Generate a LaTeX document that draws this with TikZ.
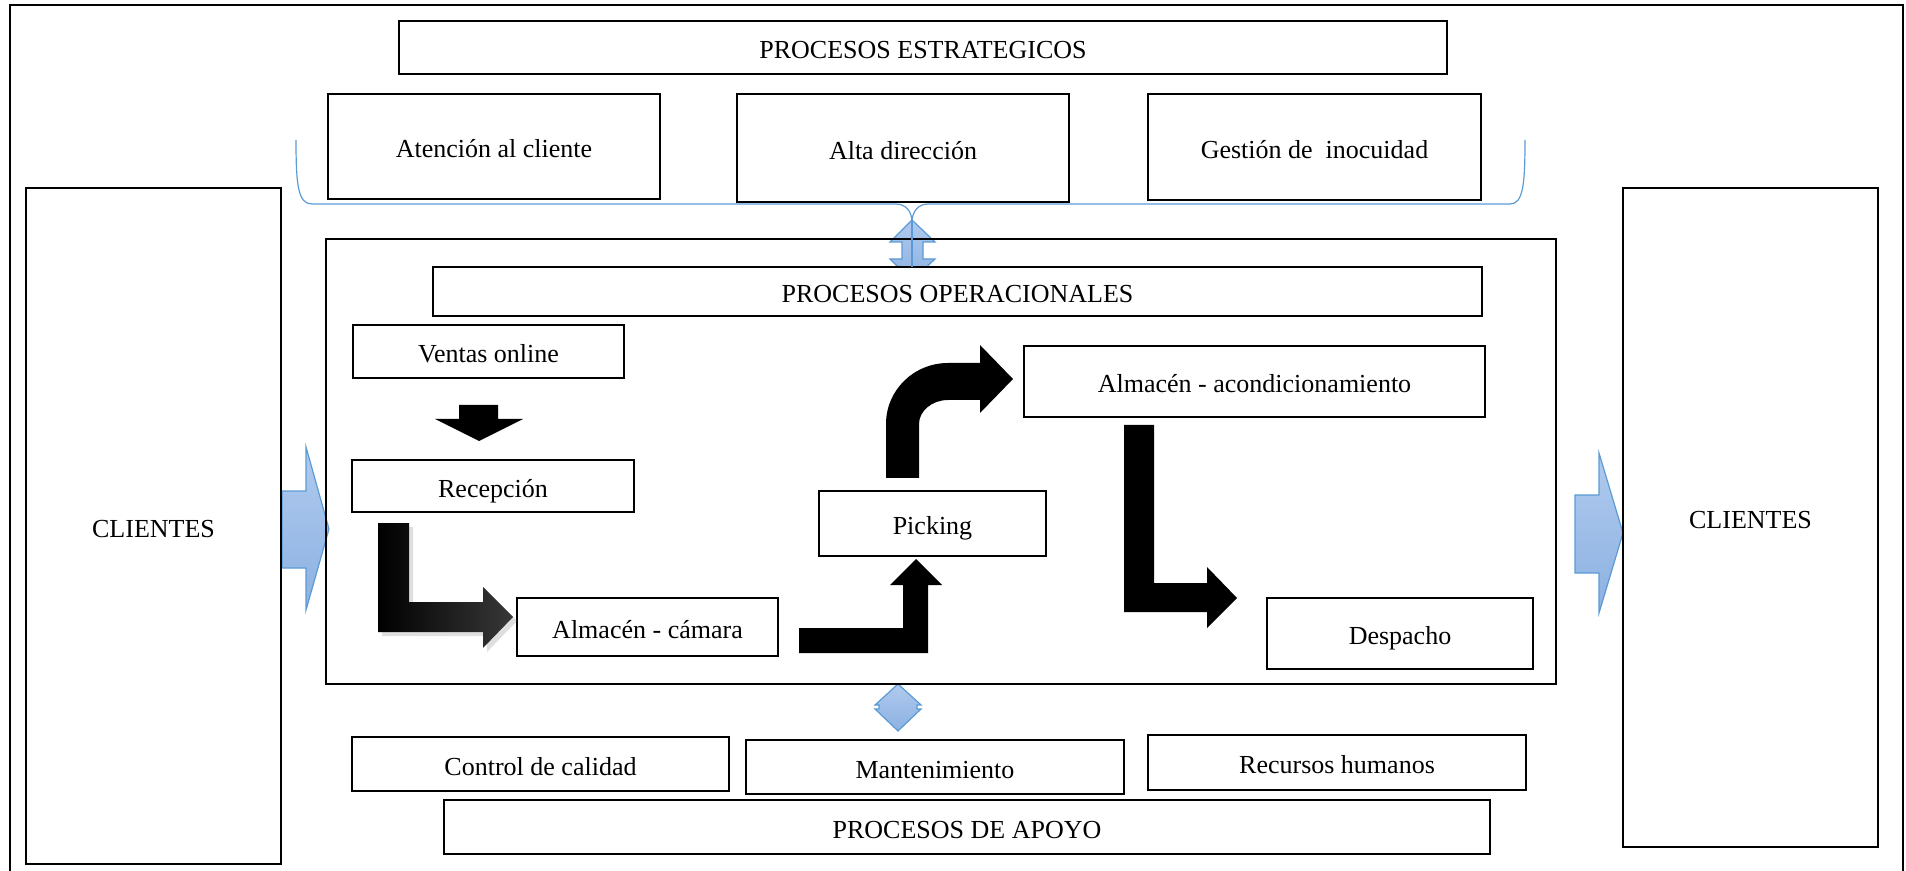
\documentclass[tikz,border=0pt]{standalone}
\usepackage{fontspec}
\setmainfont{Liberation Serif}
\usetikzlibrary{shadows}
\definecolor{bluetop}{RGB}{176,202,238}
\definecolor{bluebot}{RGB}{140,177,226}
\definecolor{blueline}{RGB}{91,155,213}

% \procbox[style]{name}{x1}{y1}{x2}{y2}{text}: a box given by two corners
\newcommand\procbox[7][box]{%
  \node[#1, minimum width={(#5-#3)*0.5pt}, minimum height={(#6-#4)*0.5pt}]
    (#2) at ({(#3+#5)/2},{(#4+#6)/2}) {#7};}

\begin{document}
\begin{tikzpicture}[x=0.5pt,y=-0.5pt,
  txt/.style={font=\fontsize{13}{15}\selectfont, text height=12pt, text depth=0.8pt},
  box/.style={draw=black, line width=1.3pt, fill=white, inner sep=0pt, outer sep=0pt, txt},
  frame/.style={draw=black, line width=1.3pt, inner sep=0pt, outer sep=0pt, txt},
  bluearrow/.style={draw=blueline, line width=0.6pt, top color=bluetop, bottom color=bluebot},
  brace/.style={draw=blueline, line width=0.6pt},
  blockarrow/.style={fill=black},
]
\useasboundingbox (0,0) rectangle (1906,871);

% outer border of the page
\begin{scope}
\clip (0,0) rectangle (1906,871);
\draw[line width=1pt] (10,5) rectangle (1903,900);
\end{scope}

% blue flow arrows (drawn below the frames)
\path[bluearrow] (282,491) -- (306,491) -- (306,447) -- (329,529) -- (306,610)
  -- (306,568) -- (282,568) -- cycle;
\path[bluearrow] (1575,495) -- (1599,495) -- (1599,453) -- (1623,533) -- (1599,613)
  -- (1599,573) -- (1575,573) -- cycle;
% up-down arrow between strategic and operational processes
\path[bluearrow] (912,220) -- (935,242) -- (923,242) -- (923,259) -- (935,259)
  -- (912,281) -- (890,259) -- (902,259) -- (902,242) -- (890,242) -- cycle;
% up-down arrow towards support processes
\path[bluearrow] (898,684) -- (921,705) -- (917,705) -- (917,709) -- (921,709)
  -- (898,731) -- (875,709) -- (879,709) -- (879,705) -- (875,705) -- cycle;

% strategic processes
\procbox{estr}{399}{21}{1447}{74}{PROCESOS ESTRATEGICOS}
\procbox{aten}{328}{94}{660}{199}{Atención al cliente}
\procbox{alta}{737}{94}{1069}{202}{Alta dirección}
\procbox{gest}{1148}{94}{1481}{200}{Gestión de~ inocuidad}

% customers on both sides
\procbox[frame]{cliL}{26}{188}{281}{864}{CLIENTES}
\procbox[frame]{cliR}{1623}{188}{1878}{847}{CLIENTES}

% operational processes
\procbox[frame]{oper}{326}{239}{1556}{684}{}
\procbox{procop}{433}{267}{1482}{316}{PROCESOS OPERACIONALES}
\procbox{ventas}{353}{325}{624}{378}{Ventas online}
\procbox{recep}{352}{460}{634}{512}{Recepción}
\procbox{camara}{517}{598}{778}{656}{Almacén - cámara}
\procbox{picking}{819}{491}{1046}{556}{Picking}
\procbox{acond}{1024}{346}{1485}{417}{Almacén - acondicionamiento}
\procbox{desp}{1267}{598}{1533}{669}{Despacho}

% support processes
\procbox{calidad}{352}{737}{729}{791}{Control de calidad}
\procbox{mant}{746}{740}{1124}{794}{Mantenimiento}
\procbox{rrhh}{1148}{735}{1526}{790}{Recursos humanos}
\procbox{apoyo}{444}{800}{1490}{854}{PROCESOS DE APOYO}

% black block arrows of the operational flow
\path[blockarrow] (459,405) -- (498,405) -- (498,419) -- (523,419) -- (479,441)
  -- (435,419) -- (459,419) -- cycle;
\path[left color=black, middle color=black, right color=black!78,
  drop shadow={shadow xshift=2pt, shadow yshift=-2pt, opacity=0.25}]
  (378,523) -- (409,523) -- (409,602) -- (483,602) -- (483,587) -- (513,617)
  -- (483,648) -- (483,632) -- (378,632) -- cycle;
\path[blockarrow] (799,628) -- (903,628) -- (903,585) -- (890,585) -- (916,559)
  -- (942,585) -- (928,585) -- (928,653) -- (799,653) -- cycle;
\path[blockarrow] (886,478) -- (886,424) .. controls (886,390) and (914,363) .. (948,363)
  -- (980,363) -- (980,345) -- (1013,379) -- (980,413) -- (980,400) -- (948,400)
  .. controls (932,400) and (919,411) .. (919,424) -- (919,478) -- cycle;
\path[blockarrow] (1124,425) -- (1154,425) -- (1154,583) -- (1207,583) -- (1207,567)
  -- (1237,598) -- (1207,628) -- (1207,612) -- (1124,612) -- cycle;

% brace grouping the strategic processes
\draw[brace] (296,140) .. controls (296,185) and (298,204) .. (312,204) -- (896,204)
  .. controls (906,204) and (912,212) .. (912,222)
  .. controls (912,212) and (918,204) .. (928,204) -- (1510,204)
  .. controls (1523,204) and (1525,185) .. (1525,140);
\draw[brace] (912,222) -- (912,267);
\end{tikzpicture}
\end{document}
